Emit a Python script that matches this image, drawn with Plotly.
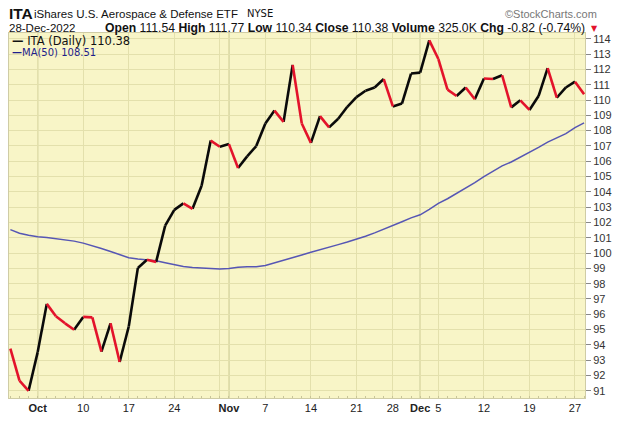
import plotly.graph_objects as go

# ---------------- data ----------------
dates = ["Sep 28", "Sep 29", "Sep 30",
         "Oct 3", "Oct 4", "Oct 5", "Oct 6", "Oct 7",
         "Oct 10", "Oct 11", "Oct 12", "Oct 13", "Oct 14",
         "Oct 17", "Oct 18", "Oct 19", "Oct 20", "Oct 21",
         "Oct 24", "Oct 25", "Oct 26", "Oct 27", "Oct 28",
         "Oct 31", "Nov 1", "Nov 2", "Nov 3", "Nov 4",
         "Nov 7", "Nov 8", "Nov 9", "Nov 10", "Nov 11",
         "Nov 14", "Nov 15", "Nov 16", "Nov 17", "Nov 18",
         "Nov 21", "Nov 22", "Nov 23", "Nov 25",
         "Nov 28", "Nov 29", "Nov 30", "Dec 1", "Dec 2",
         "Dec 5", "Dec 6", "Dec 7", "Dec 8", "Dec 9",
         "Dec 12", "Dec 13", "Dec 14", "Dec 15", "Dec 16",
         "Dec 19", "Dec 20", "Dec 21", "Dec 22", "Dec 23",
         "Dec 27", "Dec 28"]

close = [93.75, 91.66, 91.00,
         93.53, 96.68, 95.87, 95.41, 94.99,
         95.83, 95.80, 93.56, 95.41, 92.88,
         95.20, 99.03, 99.56, 99.41, 101.79,
         102.82, 103.25, 102.89, 104.40, 107.35,
         106.95, 107.12, 105.56, 106.32, 106.99,
         108.47, 109.31, 108.57, 112.30, 108.47,
         107.20, 108.95, 108.21, 108.78, 109.56,
         110.19, 110.61, 110.82, 111.37,
         109.58, 109.77, 111.73, 111.79, 113.90,
         112.68, 110.68, 110.26, 110.82, 110.05,
         111.41, 111.37, 111.62, 109.52, 109.98,
         109.35, 110.26, 112.09, 110.15, 110.82,
         111.20, 110.38]

ma50 = [101.53, 101.30, 101.17,
        101.07, 101.02, 100.95, 100.88, 100.78,
        100.65, 100.50, 100.30, 100.10, 99.90,
        99.70, 99.62, 99.57, 99.50, 99.37,
        99.22, 99.12, 99.06, 99.02, 98.98,
        98.96, 99.00, 99.08, 99.10, 99.11,
        99.19, 99.35, 99.52, 99.70, 99.88,
        100.05, 100.20, 100.38, 100.55, 100.72,
        100.90, 101.10, 101.32, 101.55,
        101.80, 102.05, 102.30, 102.50, 102.85,
        103.25, 103.55, 103.90, 104.20, 104.60,
        105.00, 105.35, 105.70, 105.95, 106.25,
        106.55, 106.90, 107.25, 107.50, 107.80,
        108.20, 108.51]

week_ticks = ["Oct 3", "Oct 10", "Oct 17", "Oct 24", "Oct 31", "Nov 1", "Nov 7",
              "Nov 14", "Nov 21", "Nov 28", "Dec 1", "Dec 5", "Dec 12",
              "Dec 19", "Dec 27"]
week_labels = ["<b>Oct</b>", "10", "17", "24", "", "<b>Nov</b>", "7",
               "14", "21", "28", "<b>Dec</b>", "5", "12", "19", "27"]
month_starts = ["Oct 3", "Nov 1", "Dec 1"]
y_ticks = list(range(91, 115))

# ---------------- figure ----------------
idx = list(range(len(dates)))
pos = {d: i for i, d in enumerate(dates)}

W, H = 620, 422
L, R, T, B = 8, 31, 33, 11
PW, PH = W - L - R, H - T - B


def fx(px):
    return (px - L) / PW


def fy(py):
    return (H - B - py) / PH


BG = "#F8F5C7"
GRID = "#E3E0AC"
MONTH = "#C9C995"
RED = "#E3132B"

up_x, up_y, dn_x, dn_y = [], [], [], []
for i in range(1, len(close)):
    if close[i] >= close[i - 1]:
        up_x += [i - 1, i, None]
        up_y += [close[i - 1], close[i], None]
    else:
        dn_x += [i - 1, i, None]
        dn_y += [close[i - 1], close[i], None]

fig = go.Figure()
fig.add_trace(go.Scatter(x=idx, y=ma50, mode="lines",
                         line=dict(color="#5656B4", width=1.5), hoverinfo="skip"))
fig.add_trace(go.Scatter(x=up_x, y=up_y, mode="lines",
                         line=dict(color="#0A0A0A", width=2.6)))
fig.add_trace(go.Scatter(x=dn_x, y=dn_y, mode="lines",
                         line=dict(color=RED, width=2.6)))

shapes = []
for m in month_starts:
    shapes.append(dict(type="line", xref="x", yref="paper", x0=pos[m], x1=pos[m],
                       y0=0, y1=1, line=dict(color=MONTH, width=1.3), layer="below"))


def ann(text, px, py, anchor, size, family="Liberation Sans", color="#111"):
    return dict(text=text, x=fx(px), y=fy(py), xref="paper", yref="paper",
                xanchor=anchor, yanchor="middle", showarrow=False,
                font=dict(family=family, size=size, color=color))


annotations = [
    ann("<b>ITA</b>", 6, 13, "left", 15.5),
    ann("iShares U.S. Aerospace &amp; Defense ETF", 31, 13, "left", 11.5),
    ann("NYSE", 246, 13, "left", 10, family="DejaVu Sans"),
    ann("\u00a9StockCharts.com", 603, 13, "right", 11, color="#777"),
    ann("28-Dec-2022", 6, 28, "left", 11.5),
    ann("<b>Open</b> 111.54 <b>High</b> 111.77 <b>Low</b> 110.34 <b>Close</b> 110.38 "
        "<b>Volume</b> 325.0K <b>Chg</b> -0.82 (-0.74%)", 103, 28, "left", 12.2),
    ann("\u25bc", 599, 28, "center", 8, family="DejaVu Sans", color=RED),
    ann("<b>\u2014</b> ITA (Daily) 110.38", 9, 41, "left", 11.5, family="DejaVu Sans"),
    ann("<b>\u2014</b>MA(50) 108.51", 9, 53, "left", 10, family="DejaVu Sans", color="#1E1E8C"),
]

fig.update_layout(
    width=W, height=H,
    margin=dict(l=L, r=R, t=T, b=B, pad=0),
    paper_bgcolor="white", plot_bgcolor=BG,
    showlegend=False,
    shapes=shapes, annotations=annotations,
    xaxis=dict(range=[-0.15, 63.1], tickmode="array",
               tickvals=[pos[d] for d in week_ticks], ticktext=week_labels,
               showgrid=True, gridcolor=GRID, gridwidth=1, zeroline=False,
               ticks="", tickfont=dict(family="Liberation Sans", size=11, color="#222"),
               showline=True, linecolor="#CFCCA5", mirror=True,
               minor=dict(dtick=1, tick0=0, ticks="inside", ticklen=2, tickcolor="#C8C59A",
                          showgrid=False)),
    yaxis=dict(range=[90.53, 114.38], side="right", tickmode="array",
               tickvals=y_ticks, ticktext=[str(v) for v in y_ticks],
               showgrid=True, gridcolor=GRID, gridwidth=1, zeroline=False,
               ticks="outside", ticklen=5, tickcolor="#888",
               tickfont=dict(family="Liberation Sans", size=11, color="#333"),
               showline=True, linecolor="#CFCCA5", mirror=True),
)

fig.write_html("out.html", config={"displayModeBar": False},
               post_script="document.body.style.margin='0px';document.body.style.padding='0px';")
